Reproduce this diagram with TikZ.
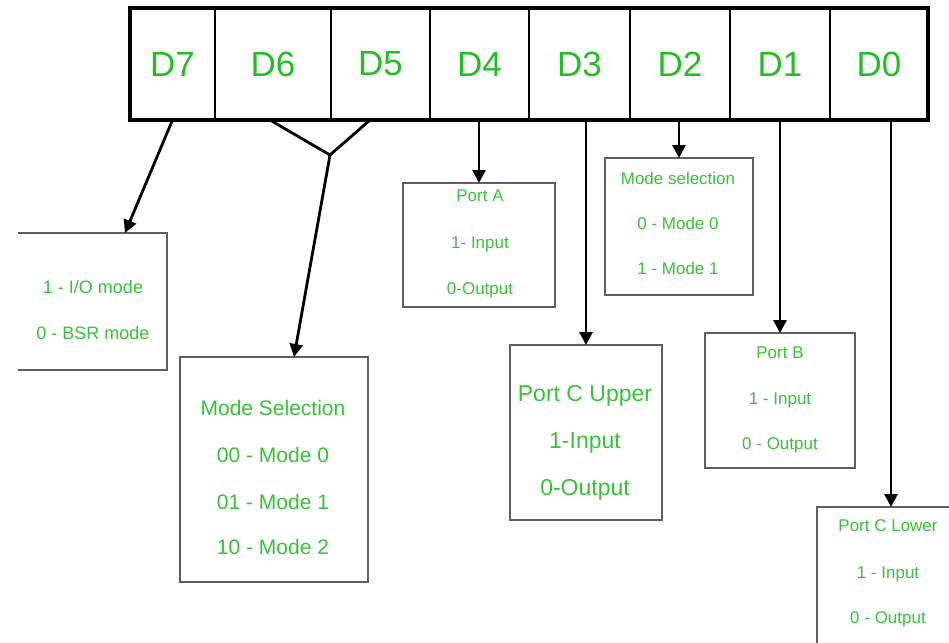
\documentclass[tikz,border=0pt]{standalone}
\usepackage{fontspec}
\setmainfont{Liberation Sans}
\usetikzlibrary{arrows.meta,calc}
\definecolor{lbl}{RGB}{35,190,35}
\definecolor{txt}{RGB}{55,195,55}
\definecolor{frm}{RGB}{95,95,95}
\begin{document}
\begin{tikzpicture}[x=1pt,y=-1pt,
  cell/.style={draw, line width=2.2pt, minimum height=112pt, minimum width=#1, inner sep=0pt, outer sep=0pt,
    font=\fontsize{35}{37}\selectfont, text=lbl},
  infobox/.style n args={2}{draw=frm, line width=1.6pt, minimum width=#1, minimum height=#2, inner sep=0pt, outer sep=0pt},
  openbox/.style n args={2}{minimum width=#1, minimum height=#2, inner sep=0pt, outer sep=0pt},
  sides/.style={draw=frm, line width=1.6pt},
  tx/.style={inner sep=0pt, text=txt, anchor=center, text depth=0pt},
  s17/.style={tx, font=\fontsize{17}{19}\selectfont, text height=12.2pt},
  s18/.style={tx, font=\fontsize{18}{20}\selectfont, text height=12.9pt},
  s21/.style={tx, font=\fontsize{21}{23}\selectfont, text height=15pt},
  s23/.style={tx, font=\fontsize{23}{25}\selectfont, text height=16.5pt},
  ln/.style={line width=2.8pt, black},
  arr/.style={ln, -{Triangle[length=13pt,width=13pt]}}
]
\fill[white] (0,0) rectangle (949,642);
\useasboundingbox (0,0) rectangle (949,642);

% register cells
\node[cell=85pt]  (d7) at (172.5,64) {D7};
\node[cell=116pt] (d6) at (273,64)   {D6};
\node[cell=99pt]  (d5) at (380.5,64) {D5};
\node[cell=99pt]  (d4) at (479.5,64) {D4};
\node[cell=101pt] (d3) at (579.5,64) {D3};
\node[cell=100pt] (d2) at (680,64)   {D2};
\node[cell=100pt] (d1) at (780,64)   {D1};
\node[cell=98pt]  (d0) at (879,64)   {D0};
\draw[line width=4.5pt] (d7.north west) rectangle (d0.south east);

% D7 box (left edge cut off)
\node[openbox={149pt}{137pt}] (iobox) at (92.5,301.5) {};
\draw[sides] (iobox.north west) -- (iobox.north east) -- (iobox.south east) -- (iobox.south west);
\node[s18] (io1) at (93,287) {1 - I/O mode};
\node[s18] (io2) at (93,333) {0 - BSR mode};

% D6 D5 box
\node[infobox={188pt}{225pt}] (msel) at (274,469.5) {};
\node[s21] (ms1) at (273,408) {Mode Selection};
\node[s21] (ms2) at (273,455) {00 - Mode 0};
\node[s21] (ms3) at (273,502) {01 - Mode 1};
\node[s21] (ms4) at (273,547) {10 - Mode 2};

% D4 box
\node[infobox={152pt}{124pt}] (porta) at (479,245) {};
\node[s17] (pa1) at (480,195) {Port A};
\node[s17] (pa2) at (480,242) {1- Input};
\node[s17] (pa3) at (480,288) {0-Output};

% D2 box
\node[infobox={148pt}{137pt}] (modesel) at (679,226.5) {};
\node[s17] (md1) at (678,178) {Mode selection};
\node[s17] (md2) at (678,223) {0 - Mode 0};
\node[s17] (md3) at (678,268) {1 - Mode 1};

% D3 box
\node[infobox={152pt}{175pt}] (pcu) at (586,432.5) {};
\node[s23] (pu1) at (585,393) {Port C Upper};
\node[s23] (pu2) at (585,440) {1-Input};
\node[s23] (pu3) at (585,487) {0-Output};

% D1 box
\node[infobox={150pt}{135pt}] (portb) at (780,400.5) {};
\node[s17] (pb1) at (780,352) {Port B};
\node[s17] (pb2) at (780,398) {1 - Input};
\node[s17] (pb3) at (780,443) {0 - Output};

% D0 box (runs off the page)
\node[infobox={148pt}{153pt}] (pcl) at (891,583.5) {};
\node[s17] (pl1) at (888,525) {Port C Lower};
\node[s17] (pl2) at (888,572) {1 - Input};
\node[s17] (pl3) at (888,617) {0 - Output};

% connectors
\coordinate (t7) at (125,0);
\draw[arr] (d7.south) -- (iobox.north -| t7);

\coordinate (f6) at (270,0);
\coordinate (f5) at (370,0);
\coordinate (fk) at (330,155);
\coordinate (t6) at (294,0);
\draw[ln, line join=miter] (d6.south -| f6) -- (fk) -- (d5.south -| f5);
\draw[arr] (fk) -- (msel.north -| t6);

\draw[arr] (d4.south -| porta.north) -- (porta.north);
\draw[arr] (d3.south -| pcu.north) -- (pcu.north);
\draw[arr] (d2.south -| modesel.north) -- (modesel.north);
\draw[arr] (d1.south -| portb.north) -- (portb.north);
\draw[arr] (d0.south -| pcl.north) -- (pcl.north);
\end{tikzpicture}
\end{document}
